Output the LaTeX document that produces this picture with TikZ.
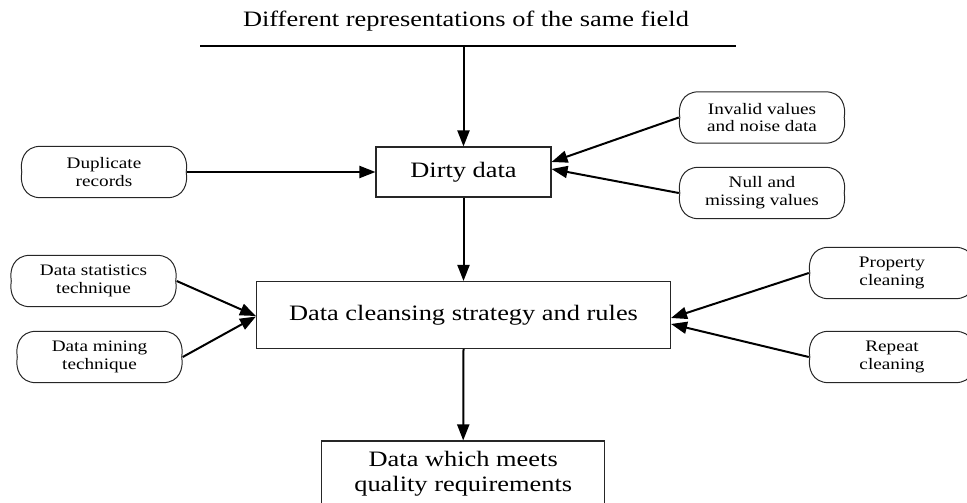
\documentclass[tikz,border=0pt]{standalone}
\usepackage{fontspec}
\setmainfont[FakeStretch=1.2]{Liberation Serif}
\usetikzlibrary{arrows.meta,calc}

\tikzset{
  big/.style={font=\fontsize{22}{25}\selectfont},
  small/.style={font=\fontsize{16}{17.7}\selectfont},
  procbox/.style={big, draw=black!85, line width=1.1pt, inner sep=0pt, align=center},
  softbox/.style={small, inner sep=0pt, align=center, minimum width=166pt, minimum height=51pt},
  outline/.style={draw=black!85, line width=1pt},
  flow/.style={line width=2pt, -{Triangle[length=16pt,width=12pt]}},
  rule/.style={line width=2pt}
}

\begin{document}
\begin{tikzpicture}[x=1pt, y=-1pt]
  \useasboundingbox (0,0) rectangle (967,503);

  % heading and the bar under it
  \node[big, anchor=base] (title) at (466,27) {Different representations of the same field};
  \coordinate (barL) at (200,46);
  \coordinate (barR) at (736,46);
  \coordinate (barM) at (463.5,46);
  \draw[rule] (barL) -- (barR);

  % main process boxes
  \node[procbox, minimum width=175pt, minimum height=50pt] (dirty) at (463.5,172) {Dirty data};
  \node[procbox, minimum width=414pt, minimum height=67pt] (clean) at (463.5,315) {Data cleansing strategy and rules};
  \node[procbox, minimum width=283pt, minimum height=66pt] (result) at (463.2,474) {Data which meets\\quality requirements};

  % side inputs
  \node[softbox] (dup) at (104,172) {Duplicate\\records};
  \node[softbox] (inv) at (762,117.5) {Invalid values\\and noise data};
  \node[softbox] (nul) at (762,193) {Null and\\missing values};
  \node[softbox] (sta) at (93.5,281) {Data statistics\\technique};
  \node[softbox] (min) at (99.5,357) {Data mining\\technique};
  \node[softbox] (pro) at (892,273) {Property\\cleaning};
  \node[softbox] (rep) at (892,357) {Repeat\\cleaning};

  % rounded outlines with slightly pinched sides
  \foreach \nm in {dup,inv,nul,sta,min,pro,rep}{
    \draw[outline] let \p1=(\nm.north west), \p2=(\nm.south east) in
      ({\x1+20pt},\y1) -- ({\x2-20pt},\y1)
      .. controls ({\x2-3pt},\y1) and ({\x2+1pt},{(\y1+\y2)/2+11pt}) .. ({\x2-1pt},{(\y1+\y2)/2})
      .. controls ({\x2+1pt},{(\y1+\y2)/2-11pt}) and ({\x2-3pt},\y2) .. ({\x2-20pt},\y2)
      -- ({\x1+20pt},\y2)
      .. controls ({\x1+3pt},\y2) and ({\x1-1pt},{(\y1+\y2)/2-11pt}) .. ({\x1+1pt},{(\y1+\y2)/2})
      .. controls ({\x1-1pt},{(\y1+\y2)/2+11pt}) and ({\x1+3pt},\y1) .. cycle;
  }

  % main flow
  \draw[flow] (barM) -- (dirty.north);
  \draw[flow] (dirty.south) -- (clean.north);
  \draw[flow] (clean.south) -- (result.north);

  % inputs to the dirty data
  \draw[flow] (dup.east) -- (dirty.west);
  \draw[flow] (inv.west) -- ([yshift=10pt]dirty.east);
  \draw[flow] (nul.west) -- ([yshift=3pt]dirty.east);

  % inputs to the cleansing strategy
  \draw[flow] (sta.east) -- ([yshift=-1pt]clean.west);
  \draw[flow] (min.east) -- ([yshift=-1.5pt]clean.west);
  \draw[flow] (pro.west) -- ([yshift=-3pt]clean.east);
  \draw[flow] (rep.west) -- ([yshift=-9pt]clean.east);
\end{tikzpicture}
\end{document}
